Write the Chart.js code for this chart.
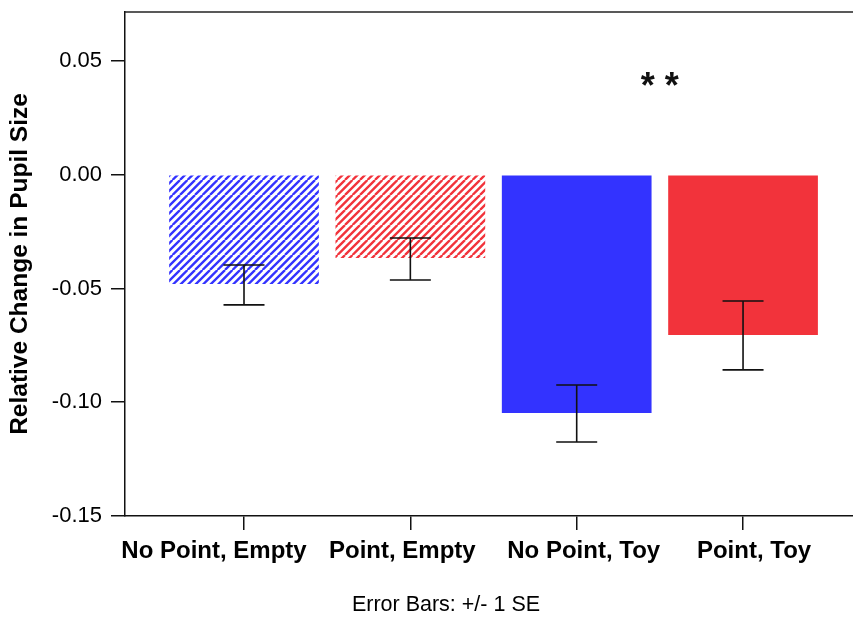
<!DOCTYPE html>
<html lang="en">
<head>
<meta charset="UTF-8">
<title>Pupil Size</title>
<script src="https://cdn.jsdelivr.net/npm/chart.js"></script>
<style>
  body { margin: 0; background: #fff; }
  #wrap { width: 853px; height: 617px; }
</style>
</head>
<body>
<div id="wrap"><canvas id="myChart" width="853" height="617"></canvas></div>
<script>
// data
const categories = ['No Point, Empty', 'Point, Empty', 'No Point, Toy', 'Point, Toy'];
const means = [-0.048, -0.0366, -0.1047, -0.0704];
const errTop = [-0.0397, -0.0278, -0.0924, -0.0555];
const errBottom = [-0.0572, -0.0463, -0.1175, -0.0858];
const yTicks = [-0.15, -0.10, -0.05, 0.00, 0.05];

const blue = '#3333ff';
const red = '#f2333b';
const fontFam = '"Liberation Sans", Arial, sans-serif';
// category labels in the original sit a little off their ticks
const labelNudge = [-30, -8, 7, 11];

// diagonal hatch fill for the "Empty" bars
function hatch(color) {
  const s = 15, step = 7.5;
  const c = document.createElement('canvas');
  c.width = s; c.height = s;
  const g = c.getContext('2d');
  g.fillStyle = '#fff';
  g.fillRect(0, 0, s, s);
  g.strokeStyle = color;
  g.lineWidth = 2.3;
  g.beginPath();
  for (let x0 = -s; x0 <= s; x0 += step) {
    g.moveTo(x0, s);
    g.lineTo(x0 + s, 0);
  }
  g.stroke();
  return g.createPattern(c, 'repeat');
}

const fills = [hatch(blue), hatch(red), blue, red];

// error bars, frame, labels, significance mark, footnote
const extras = {
  id: 'extras',
  afterDatasetsDraw(chart) {
    const ctx = chart.ctx;
    const xs = chart.scales.x, ys = chart.scales.y;
    const area = chart.chartArea;
    ctx.save();
    ctx.strokeStyle = '#111';
    ctx.lineWidth = 1.6;
    for (let i = 0; i < means.length; i++) {
      const x = xs.getPixelForValue(i + 1);
      const y1 = ys.getPixelForValue(errTop[i]);
      const y2 = ys.getPixelForValue(errBottom[i]);
      ctx.beginPath();
      ctx.moveTo(x, y1); ctx.lineTo(x, y2);
      ctx.moveTo(x - 20.5, y1); ctx.lineTo(x + 20.5, y1);
      ctx.moveTo(x - 20.5, y2); ctx.lineTo(x + 20.5, y2);
      ctx.stroke();
    }
    // top frame line
    ctx.strokeStyle = '#222';
    ctx.lineWidth = 1.5;
    ctx.beginPath();
    ctx.moveTo(area.left, area.top);
    ctx.lineTo(area.right, area.top);
    ctx.stroke();
    // category labels
    ctx.fillStyle = '#000';
    ctx.font = 'bold 24px ' + fontFam;
    ctx.textAlign = 'center';
    ctx.textBaseline = 'alphabetic';
    categories.forEach((c, i) => {
      ctx.fillText(c, xs.getPixelForValue(i + 1) + labelNudge[i], area.bottom + 42);
    });
    // ** between the toy bars
    ctx.fillStyle = '#111';
    ctx.font = 'bold 36px ' + fontFam;
    ctx.fillText('* *', xs.getPixelForValue(3.5), ys.getPixelForValue(0.0338));
    // footnote under the axis
    ctx.fillStyle = '#000';
    ctx.font = '21.5px ' + fontFam;
    ctx.textBaseline = 'middle';
    ctx.fillText('Error Bars: +/- 1 SE', 446, 605);
    ctx.restore();
  }
};

const ctx = document.getElementById('myChart');
const chart = new Chart(ctx, {
  type: 'bar',
  data: {
    datasets: [{
      data: means.map((v, i) => ({ x: i + 1, y: v })),
      backgroundColor: fills,
      borderWidth: 0,
      barPercentage: 0.9,
      categoryPercentage: 1
    }]
  },
  options: {
    responsive: false,
    animation: false,
    layout: { padding: { top: 12, right: 0, left: 0, bottom: 0 } },
    plugins: {
      legend: { display: false },
      tooltip: { enabled: false }
    },
    scales: {
      x: {
        type: 'linear',
        offset: false,
        min: 0.2846,
        max: 4.661,
        afterBuildTicks: s => { s.ticks = categories.map((c, i) => ({ value: i + 1 })); },
        afterFit: s => { s.height = 101; s.paddingLeft = 0; s.paddingRight = 0; },
        ticks: { display: false },
        grid: { offset: false, drawOnChartArea: false, drawTicks: true, tickLength: 14, color: '#111', lineWidth: 1.5 },
        border: { display: true, color: '#111', width: 1.5 }
      },
      y: {
        min: -0.15,
        max: 0.0715,
        afterBuildTicks: s => { s.ticks = yTicks.map(v => ({ value: v })); },
        afterFit: s => { s.width = 125; s.paddingTop = 0; s.paddingBottom = 0; },
        ticks: {
          callback: v => v.toFixed(2),
          color: '#000',
          font: { family: fontFam, size: 22 },
          padding: 9
        },
        grid: { drawOnChartArea: false, tickLength: 14, color: '#111', lineWidth: 1.5 },
        border: { display: true, color: '#111', width: 1.5 },
        title: {
          display: true,
          text: 'Relative Change in Pupil Size',
          color: '#000',
          font: { family: fontFam, size: 24.5, weight: 'bold' },
          padding: { top: 6, bottom: 0 }
        }
      }
    }
  },
  plugins: [extras]
});
</script>
</body>
</html>
